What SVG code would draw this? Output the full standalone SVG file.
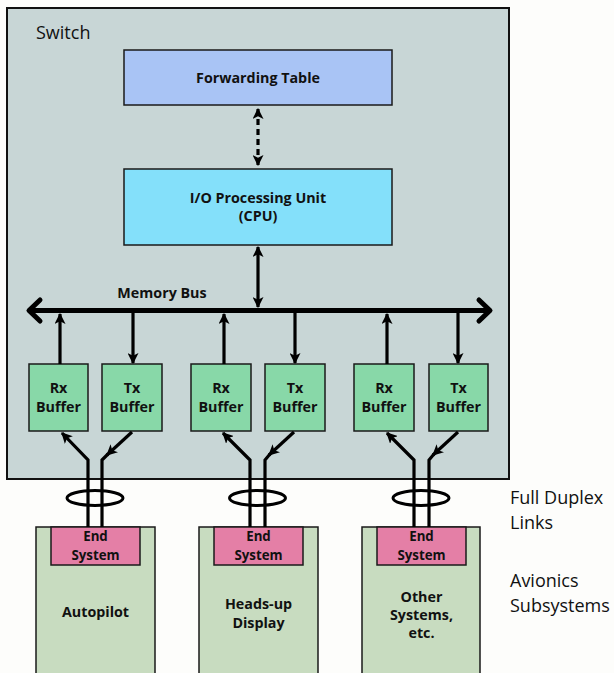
<svg xmlns="http://www.w3.org/2000/svg" width="614" height="673" viewBox="0 0 614 673">
  <style>
    .lbl { font-family: "Open Sans", "DejaVu Sans", sans-serif; font-weight: bold; font-size: 14.3px; fill: #111; text-anchor: middle; }
    .esl { font-size: 13.3px; }
    .cap { font-family: "Open Sans", "DejaVu Sans", sans-serif; font-size: 18px; fill: #111; }
    .box { stroke: #1a1a1a; stroke-width: 1.5; }
    .buf { fill: #88d8a8; stroke: #1a1a1a; stroke-width: 1.5; }
    .sub { fill: #c8dcc0; stroke: #1a1a1a; stroke-width: 1.5; }
    .es { fill: #e47fa6; stroke: #1a1a1a; stroke-width: 1.5; }
    .wire { fill: none; stroke: #000; stroke-width: 3.2; }
    .ring { fill: none; stroke: #000; stroke-width: 3; }
  </style>
  <defs>
    <marker id="ah" viewBox="0 0 10 10" refX="9" refY="5" markerWidth="11" markerHeight="11" markerUnits="userSpaceOnUse" orient="auto-start-reverse">
      <path d="M0,0 L10,5 L0,10 L2.5,5 z" fill="#000"/>
    </marker>
  </defs>

  <rect width="614" height="673" fill="#fdfdfb"/>

  <!-- switch enclosure -->
  <g id="switch">
    <rect x="7" y="8" width="502" height="471" fill="#c8d6d6" stroke="#111" stroke-width="2"/>
    <text class="cap" x="36" y="39">Switch</text>
  </g>

  <g id="forwarding-table">
    <rect class="box" x="124" y="50" width="268" height="55" fill="#a9c4f5"/>
    <text class="lbl" x="258" y="83">Forwarding Table</text>
  </g>

  <g id="cpu">
    <rect class="box" x="124" y="169" width="268" height="76" fill="#84e0fa"/>
    <text class="lbl" x="258" y="203">I/O Processing Unit</text>
    <text class="lbl" x="258" y="221">(CPU)</text>
  </g>

  <g id="memory-bus">
    <line x1="30" y1="310.5" x2="489" y2="310.5" stroke="#000" stroke-width="5"/>
    <path d="M40,300 L29,310.5 L40,321" fill="none" stroke="#000" stroke-width="5" stroke-linejoin="round" stroke-linecap="round"/>
    <path d="M479,300 L490,310.5 L479,321" fill="none" stroke="#000" stroke-width="5" stroke-linejoin="round" stroke-linecap="round"/>
    <text class="lbl" x="162" y="298">Memory Bus</text>
  </g>

  <!-- Rx / Tx buffers -->
  <g id="rx1"><rect class="buf" x="29" y="364" width="59" height="67"/><text class="lbl" x="58.5" y="393">Rx</text><text class="lbl" x="58.5" y="412">Buffer</text></g>
  <g id="tx1"><rect class="buf" x="102" y="364" width="60" height="67"/><text class="lbl" x="132" y="393">Tx</text><text class="lbl" x="132" y="412">Buffer</text></g>
  <g id="rx2"><rect class="buf" x="191" y="364" width="60" height="67"/><text class="lbl" x="221" y="393">Rx</text><text class="lbl" x="221" y="412">Buffer</text></g>
  <g id="tx2"><rect class="buf" x="265" y="364" width="60" height="67"/><text class="lbl" x="295" y="393">Tx</text><text class="lbl" x="295" y="412">Buffer</text></g>
  <g id="rx3"><rect class="buf" x="354" y="364" width="60" height="67"/><text class="lbl" x="384" y="393">Rx</text><text class="lbl" x="384" y="412">Buffer</text></g>
  <g id="tx3"><rect class="buf" x="429" y="364" width="59" height="67"/><text class="lbl" x="458.5" y="393">Tx</text><text class="lbl" x="458.5" y="412">Buffer</text></g>

  <!-- avionics subsystems -->
  <g id="autopilot">
    <rect class="sub" x="36" y="527" width="119" height="160"/>
    <rect class="es" x="51" y="527" width="89" height="38"/>
    <text class="lbl esl" x="95.5" y="541">End</text>
    <text class="lbl esl" x="95.5" y="559.5">System</text>
    <text class="lbl" x="95.5" y="617">Autopilot</text>
  </g>
  <g id="heads-up-display">
    <rect class="sub" x="199" y="527" width="119" height="160"/>
    <rect class="es" x="214" y="527" width="89" height="38"/>
    <text class="lbl esl" x="258.5" y="541">End</text>
    <text class="lbl esl" x="258.5" y="559.5">System</text>
    <text class="lbl" x="258.5" y="609">Heads-up</text>
    <text class="lbl" x="258.5" y="628">Display</text>
  </g>
  <g id="other-systems">
    <rect class="sub" x="362" y="527" width="118" height="160"/>
    <rect class="es" x="377" y="527" width="89" height="38"/>
    <text class="lbl esl" x="421.5" y="541">End</text>
    <text class="lbl esl" x="421.5" y="559.5">System</text>
    <text class="lbl" x="421.5" y="602">Other</text>
    <text class="lbl" x="421.5" y="620">Systems,</text>
    <text class="lbl" x="421.5" y="638">etc.</text>
  </g>

  <g id="legend">
    <text class="cap" x="510" y="504">Full Duplex</text>
    <text class="cap" x="510" y="529">Links</text>
    <text class="cap" x="510" y="587">Avionics</text>
    <text class="cap" x="510" y="612">Subsystems</text>
  </g>

  <g id="connectors">
    <!-- table <-> cpu -->
    <line class="wire" x1="258" y1="109" x2="258" y2="165" stroke-width="3.6" stroke-dasharray="6,4" marker-start="url(#ah)" marker-end="url(#ah)"/>
    <!-- cpu <-> bus -->
    <line class="wire" x1="258" y1="247" x2="258" y2="307" marker-start="url(#ah)" marker-end="url(#ah)"/>

    <!-- buffers <-> bus -->
    <line class="wire" x1="60" y1="364" x2="60" y2="314" marker-end="url(#ah)"/>
    <line class="wire" x1="133" y1="313" x2="133" y2="363" marker-end="url(#ah)"/>
    <line class="wire" x1="224" y1="364" x2="224" y2="314" marker-end="url(#ah)"/>
    <line class="wire" x1="295" y1="313" x2="295" y2="363" marker-end="url(#ah)"/>
    <line class="wire" x1="387" y1="364" x2="387" y2="314" marker-end="url(#ah)"/>
    <line class="wire" x1="458" y1="313" x2="458" y2="363" marker-end="url(#ah)"/>

    <!-- link pair 1 -->
    <polyline class="wire" points="88,527 88,460 62,433" marker-end="url(#ah)"/>
    <line class="wire" x1="132" y1="432" x2="107" y2="455" marker-end="url(#ah)"/>
    <polyline class="wire" points="108,454 102,460 102,527"/>
    <!-- link pair 2 -->
    <polyline class="wire" points="250,527 250,460 223,433" marker-end="url(#ah)"/>
    <line class="wire" x1="294" y1="432" x2="269" y2="455" marker-end="url(#ah)"/>
    <polyline class="wire" points="270,454 265,460 265,527"/>
    <!-- link pair 3 -->
    <polyline class="wire" points="414,527 414,460 387,433" marker-end="url(#ah)"/>
    <line class="wire" x1="458" y1="432" x2="433" y2="455" marker-end="url(#ah)"/>
    <polyline class="wire" points="434,454 429,460 429,527"/>

    <!-- full duplex link rings -->
    <ellipse class="ring" cx="95" cy="498" rx="28" ry="7.5"/>
    <ellipse class="ring" cx="257.5" cy="498" rx="28" ry="7.5"/>
    <ellipse class="ring" cx="421" cy="498" rx="28" ry="7.5"/>
  </g>
</svg>
